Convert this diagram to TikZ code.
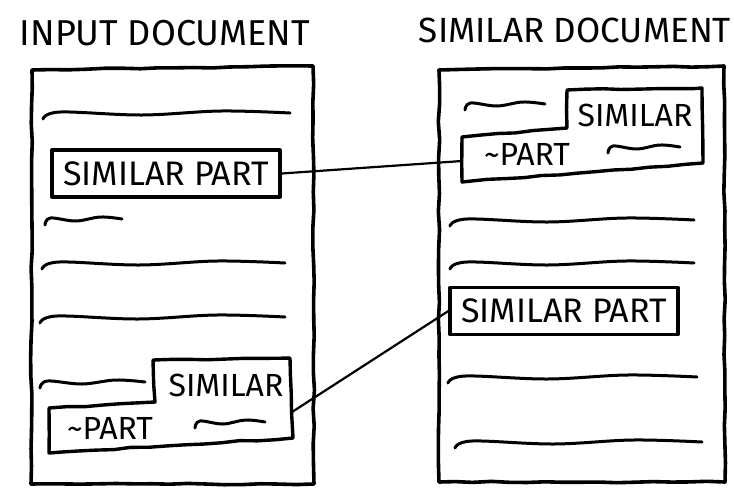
\documentclass[tikz,border=0pt]{standalone}
\usepackage{fontspec}
\setmainfont{Fira Sans}
\usetikzlibrary{decorations.pathmorphing}
\pgfmathsetseed{7}

% a hand drawn text line
\newcommand{\wavy}[3]{%
    \pgfmathsetmacro\wa{#1+0.07*(#2-#1)}
    \pgfmathsetmacro\wb{#1+0.4*(#2-#1)}
    \pgfmathsetmacro\wc{#1+0.72*(#2-#1)}
    \draw[pen] plot[smooth, tension=0.6] coordinates {(#1,{#3+6}) (\wa,{#3-1}) (\wb,{#3+2}) (\wc,{#3-2}) (#2,{#3})};
}

\begin{document}
\begin{tikzpicture}[x=0.5pt, y=-0.5pt,
    pen/.style = {line width=1.5pt, line cap=round, line join=round},
    rough/.style = {pen, decorate, decoration={random steps, segment length=9pt, amplitude=0.35pt}},
    part/.style = {pen, draw, line width=1.6pt, inner sep=0pt, minimum width=114pt, minimum height=23.5pt, font=\fontsize{17}{18}\selectfont},
    title/.style = {font=\fontsize{18}{20}\selectfont},
    word/.style = {font=\fontsize{16}{17}\selectfont}]
    \useasboundingbox (0,0) rectangle (734,488);

    % the two pages
    \node[title] (intitle) at (165,33) {INPUT DOCUMENT};
    \node[title, font=\fontsize{17.5}{20}\selectfont] (simtitle) at (575,30) {SIMILAR DOCUMENT};
    \draw[rough, line width=1.8pt] (32,70) -- (313,66) -- (314,484) -- (31,484) -- cycle;
    \draw[rough, line width=1.8pt] (439,70) -- (724,66) -- (725,482) -- (439,482) -- cycle;

    % input document
    \wavy{43}{290}{113}
    \node[part] (lpart) at (166,173.5) {SIMILAR PART};
    \wavy{45}{122}{219}
    \wavy{42}{285}{263}
    \wavy{40}{285}{317}
    \wavy{40}{145}{382}
    \draw[rough, line width=1.7pt] (153,360) -- (290,358) -- (293,438) -- (49,453) -- (49,408) -- (155,402) -- cycle;
    \node[word] (lsim) at (226,385) {SIMILAR};
    \node[word] (lpar) at (110,428) {\textasciitilde PART};
    \wavy{195}{265}{422}
    \coordinate (lstep) at (292,412);

    % similar document
    \wavy{465}{545}{104}
    \draw[rough, line width=1.7pt] (567,90) -- (702,88) -- (703,163) -- (462,182) -- (462,137) -- (567,128) -- cycle;
    \node[word] (rsim) at (635,115) {SIMILAR};
    \node[word] (rpar) at (527,154) {\textasciitilde PART};
    \wavy{608}{680}{147}
    \coordinate (rstep) at (462,161);
    \wavy{450}{694}{220}
    \wavy{450}{694}{263}
    \node[part] (rpart) at (564,311) {SIMILAR PART};
    \wavy{448}{697}{377}
    \wavy{455}{702}{442}

    % matches
    \draw[pen, line width=1.1pt] (lpart.east) -- (rstep);
    \draw[pen, line width=1.1pt] (lstep) -- (rpart.west);
\end{tikzpicture}
\end{document}
